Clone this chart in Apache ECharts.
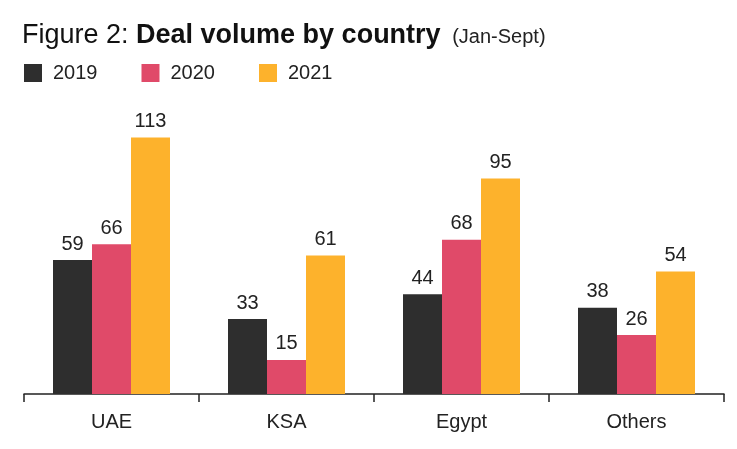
<!DOCTYPE html>
<html>
<head>
<meta charset="utf-8">
<script src="https://cdn.jsdelivr.net/npm/echarts@6/dist/echarts.min.js"></script>
<style>
  html, body { margin: 0; padding: 0; background: #fff; }
  #chart { width: 737px; height: 449px; }
</style>
</head>
<body>
<div id="chart"></div>
<script>
// data
var countries = ['UAE', 'KSA', 'Egypt', 'Others'];
var years = ['2019', '2020', '2021'];
var vol2019 = [59, 33, 44, 38];
var vol2020 = [66, 15, 68, 26];
var vol2021 = [113, 61, 95, 54];
var colors = ['#2e2e2e', '#e04a69', '#fdb22c'];

var font = '"Liberation Sans", Arial, Helvetica, sans-serif';
var chart = echarts.init(document.getElementById('chart'));

function makeSeries(name, data, color) {
	return {
		name: name,
		type: 'bar',
		data: data,
		barWidth: 39,
		barGap: '0%',
		itemStyle: { color: color },
		label: {
			show: true,
			position: 'top',
			distance: 6,
			color: '#222',
			fontSize: 20,
			fontFamily: font
		}
	};
}

var option = {
	animation: false,
	textStyle: { fontFamily: font },
	title: {
		left: 22,
		top: 19,
		padding: 0,
		text: '{a|Figure 2: }{b|Deal volume by country}{c| (Jan-Sept)}',
		textStyle: {
			rich: {
				a: { fontSize: 27, fontWeight: 'normal', color: '#111', fontFamily: font, lineHeight: 30, verticalAlign: 'bottom' },
				b: { fontSize: 27, fontWeight: 'bold', color: '#111', fontFamily: font, lineHeight: 30, verticalAlign: 'bottom' },
				c: { fontSize: 20, fontWeight: 'normal', color: '#222', fontFamily: font, lineHeight: 30, padding: [0, 0, 2, 6], verticalAlign: 'bottom' }
			}
		}
	},
	legend: {
		left: 24,
		top: 63,
		padding: 0,
		itemWidth: 18,
		itemHeight: 18,
		itemGap: 44,
		icon: 'rect',
		data: years,
		textStyle: { fontSize: 20, color: '#222', fontFamily: font, padding: [0, 0, 0, 6] }
	},
	grid: { left: 24, right: 13, top: 99, bottom: 55 },
	xAxis: {
		type: 'category',
		data: countries,
		axisLine: { lineStyle: { color: '#222', width: 1.5 } },
		axisTick: { show: true, length: 8, lineStyle: { color: '#222', width: 1.5 } },
		axisLabel: { margin: 18, fontSize: 20, color: '#222', fontFamily: font }
	},
	yAxis: {
		type: 'value',
		min: 0,
		max: 130,
		show: false,
		splitLine: { show: false }
	},
	series: [
		makeSeries(years[0], vol2019, colors[0]),
		makeSeries(years[1], vol2020, colors[1]),
		makeSeries(years[2], vol2021, colors[2])
	]
};
chart.setOption(option);
</script>
</body>
</html>
